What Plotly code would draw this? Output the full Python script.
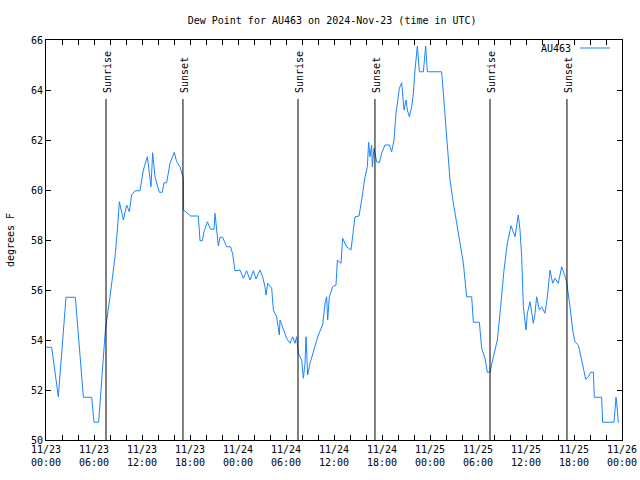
import pandas as pd
import plotly.graph_objects as go

# Hours since 2024-11-23 00:00 UTC and dew point (F)
hours = [0, 0.71, 1.54, 2.5, 3.67, 4.67, 5.71, 6.0, 6.58, 7.0, 7.42, 8.0, 8.625, 8.92, 9.17, 9.67,
         10.08, 10.42, 10.7, 11.125, 11.75, 12.17, 12.67, 13.125, 13.33, 13.625, 13.92, 14.17, 14.54,
         14.75, 15.08, 15.5, 16.04, 16.33, 16.75, 17.17, 17.2, 17.8, 18.08, 19.04, 19.25, 19.54, 19.75,
         20.17, 20.58, 21.0, 21.125, 21.54, 21.75, 22.08, 22.58, 23.08, 23.33, 23.625, 24.25, 24.67,
         25.08, 25.5, 25.92, 26.25, 26.75, 27.08, 27.375, 27.5, 27.71, 28.21, 28.42, 28.83, 29.17,
         29.25, 29.67, 30.08, 30.5, 30.83, 31.125, 31.33, 31.54, 31.96, 32.17, 32.375, 32.5, 32.71,
         33.0, 33.5, 34.04, 34.58, 34.875, 35.08, 35.21, 35.42, 35.83, 36.25, 36.42, 36.875, 37.08,
         37.58, 38.125, 38.625, 39.125, 39.46, 39.875, 40.17, 40.33, 40.5, 40.71, 40.79, 41.0, 41.33,
         41.67, 41.96, 42.375, 42.92, 43.21, 43.5, 43.75, 44.17, 44.46, 44.75, 45.0, 45.17, 45.42,
         45.71, 45.92, 46.125, 46.42, 46.67, 47.17, 47.46, 47.67, 49.46, 49.875, 50.17, 50.5, 50.92,
         51.33, 51.75, 52.17, 52.58, 53.21, 53.42, 54.17, 54.46, 54.875, 55.17, 55.5, 55.92, 56.42,
         56.83, 57.25, 57.67, 58.125, 58.625, 59.04, 59.25, 59.46, 59.67, 60.0, 60.17, 60.5, 60.92,
         61.125, 61.33, 61.67, 61.96, 62.375, 62.67, 63.0, 63.33, 63.625, 64.04, 64.46, 64.75, 65.08,
         65.5, 65.83, 66.125, 66.54, 66.96, 67.46, 67.79, 68.08, 68.42, 68.54, 69.46, 69.58, 71.0,
         71.25, 71.42, 71.54]
dewpoint = [53.71, 53.71, 51.73, 55.71, 55.71, 51.71, 51.71, 50.71, 50.71, 52.67, 54.4, 55.73, 57.33,
            58.4, 59.53, 58.8, 59.4, 59.13, 59.8, 59.97, 59.97, 60.8, 61.33, 60.13, 61.49, 60.53, 60.2,
            59.91, 59.91, 60.29, 60.29, 61.07, 61.51, 61.13, 60.93, 60.47, 59.2, 59.03, 58.96, 58.96,
            57.97, 57.97, 58.33, 58.73, 58.43, 58.43, 59.07, 57.76, 58.11, 58.11, 57.73, 57.73, 57.44,
            56.77, 56.8, 56.47, 56.77, 56.4, 56.77, 56.44, 56.8, 56.53, 56.13, 55.8, 56.27, 56.07, 55.2,
            54.93, 54.2, 54.8, 54.4, 54.07, 53.87, 54.13, 53.87, 54.13, 53.47, 53.2, 52.47, 53.07,
            54.13, 52.6, 53.07, 53.6, 54.2, 54.6, 55.47, 55.73, 54.8, 55.73, 56.13, 56.2, 57.2, 57.07,
            58.07, 57.73, 57.6, 58.93, 58.96, 59.6, 60.53, 60.93, 61.91, 61.33, 61.8, 60.93, 61.67,
            61.13, 61.09, 61.47, 61.8, 61.8, 61.53, 62.0, 63.07, 64.07, 64.29, 63.2, 63.6, 63.2, 62.93,
            63.33, 63.87, 64.8, 65.76, 64.73, 64.73, 65.76, 64.73, 64.73, 62.93, 61.47, 60.4, 59.47,
            58.67, 57.87, 57.07, 55.73, 55.73, 54.71, 54.71, 53.67, 53.27, 52.71, 52.71, 53.33, 54.0,
            55.33, 56.8, 57.87, 58.57, 58.13, 59.0, 58.4, 57.33, 55.33, 54.4, 55.07, 55.53, 54.67,
            55.07, 55.73, 55.2, 55.33, 55.07, 55.73, 56.8, 56.27, 56.47, 56.27, 56.93, 56.67, 56.33,
            55.33, 54.4, 53.93, 53.8, 53.2, 52.43, 52.53, 52.71, 52.71, 51.71, 51.71, 50.71, 50.71,
            51.71, 51.2, 50.69]

# Sunrise / sunset events (hours since start)
event_hours = [7.5, 17.12, 31.5, 41.12, 55.5, 65.12]
event_labels = ["Sunrise", "Sunset", "Sunrise", "Sunset", "Sunrise", "Sunset"]
event_top = 63.64

base = pd.Timestamp("2024-11-23 00:00")
times = base + pd.to_timedelta(hours, unit="h")
event_times = base + pd.to_timedelta(event_hours, unit="h")

FONT = "DejaVu Sans Mono"
FS = 10
fig = go.Figure()
fig.add_trace(go.Scatter(x=times, y=dewpoint, mode="lines", name="AU463",
                         line=dict(color="#1a84ff", width=1), showlegend=False))

for t, lab in zip(event_times, event_labels):
    fig.add_shape(type="line", x0=t, x1=t, y0=50, y1=event_top, xref="x", yref="y",
                  line=dict(color="black", width=1))
    fig.add_annotation(x=t, y=event_top, xref="x", yref="y", text=lab, textangle=-90,
                       showarrow=False, yanchor="bottom", xanchor="center", yshift=4, xshift=1,
                       font=dict(family=FONT, size=FS, color="black"))

# Legend (gnuplot style: text then line sample)
fig.add_annotation(x=0.915, y=0.98, xref="paper", yref="paper", text="AU463", showarrow=False,
                   xanchor="right", yanchor="middle", font=dict(family=FONT, size=FS, color="black"))
fig.add_shape(type="line", x0=0.927, x1=0.979, y0=0.98, y1=0.98, xref="paper", yref="paper",
              line=dict(color="#1a84ff", width=1))

fig.update_layout(
    width=640, height=480,
    margin=dict(l=46, r=18, t=40, b=40, autoexpand=False),
    paper_bgcolor="white", plot_bgcolor="white",
    font=dict(family=FONT, size=FS, color="black"),
    title=dict(text="Dew Point for AU463 on 2024-Nov-23 (time in UTC)", x=0.519, xanchor="center",
               y=0.958, yanchor="middle", font=dict(family=FONT, size=FS, color="black")),
)
fig.update_xaxes(
    type="date", range=[base, base + pd.Timedelta(hours=72)], automargin=False,
    dtick=6 * 3600 * 1000, tick0=base, tickformat="%m/%d<br>%H:%M",
    ticks="inside", ticklen=5, tickcolor="black", mirror="allticks",
    minor=dict(dtick=2 * 3600 * 1000, ticks="inside", ticklen=5, tickcolor="black"),
    showline=True, linecolor="black", linewidth=1, showgrid=False, zeroline=False,
    tickfont=dict(family=FONT, size=FS, color="black"),
)
fig.update_yaxes(
    range=[50, 66], dtick=2, tick0=50, automargin=False,
    ticks="inside", ticklen=5, tickcolor="black", mirror="allticks",
    showline=True, linecolor="black", linewidth=1, showgrid=False, zeroline=False,
    title=dict(text="degrees F", standoff=14, font=dict(family=FONT, size=FS, color="black")),
    tickfont=dict(family=FONT, size=FS, color="black"),
)

# remove the page's default body margin so the 640x480 figure fills the window exactly
fig.write_html("out.html", config={"displayModeBar": False},
               post_script="document.body.style.margin='0';document.body.style.overflow='hidden';")
